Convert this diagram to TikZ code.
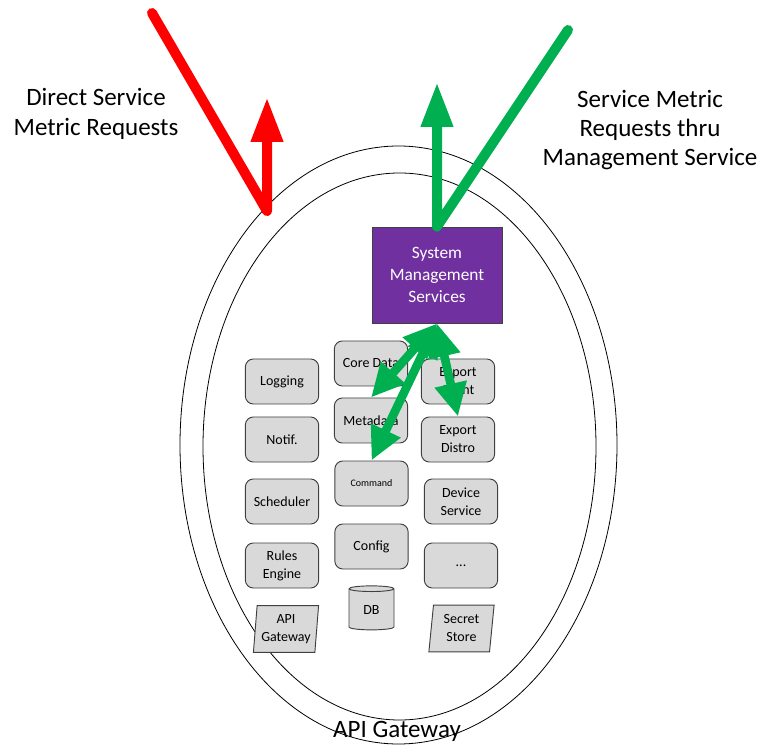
\documentclass[tikz,border=0pt]{standalone}
\usepackage{fontspec}
\setmainfont{Carlito}
\usetikzlibrary{arrows.meta,shapes.geometric}
\definecolor{smspurple}{HTML}{7030A0}
\definecolor{mgmtgreen}{HTML}{00B050}
\definecolor{directred}{HTML}{FF0000}
\definecolor{boxgray}{HTML}{D9D9D9}
\definecolor{edgegray}{HTML}{404040}

\begin{document}
\begin{tikzpicture}[x=0.75pt,y=-0.75pt,
  svc/.style={draw=edgegray,fill=boxgray,line width=0.7pt,rounded corners=6pt,minimum width=55pt,minimum height=33.75pt,inner sep=1pt,align=center,font=\fontsize{10.5}{13.5}\selectfont},
  store/.style={draw=edgegray,fill=boxgray,line width=0.7pt,trapezium,trapezium stretches=true,trapezium left angle=84,trapezium right angle=96,minimum width=49pt,minimum height=35pt,inner sep=1pt,align=center,font=\fontsize{10.5}{13.5}\selectfont},
  bigtext/.style={align=center,font=\fontsize{18.75}{22}\selectfont},
  fat/.style={line width=7.5pt,line cap=round,line join=round,-{Triangle[length=33.75pt,width=22.5pt]}},
  link/.style={draw=mgmtgreen,line width=6.5pt,{Triangle[length=25pt,width=23pt]}-{Triangle[length=25pt,width=23pt]}}]
\useasboundingbox (0,0) rectangle (761,745);
% gateway rings
\draw[line width=0.6pt] (398.5,445) ellipse [x radius=218.5, y radius=299];
\draw[line width=0.6pt] (399.5,446.5) ellipse [x radius=196.5, y radius=273.5];
\node[bigtext] at (397,731) (gwlbl) {API Gateway};
% labels
\node[bigtext] at (96,114) (directlbl) {Direct Service\\Metric Requests};
\node[bigtext] at (650,130) (mgmtlbl) {Service Metric\\Requests thru\\Management Service};
% system management
\node[draw=edgegray,fill=smspurple,line width=0.7pt,minimum width=97.5pt,minimum height=72pt,align=center,text=white,font=\fontsize{13}{16.5}\selectfont] at (437,275) (sms) {System\\Management\\Services};
% services
\node[svc] at (282,381.5) (logging) {Logging};
\node[svc] at (282,439.5) (notif) {Notif.};
\node[svc] at (282,501.5) (scheduler) {Scheduler};
\node[svc] at (282,565.5) (rules) {Rules\\Engine};
\node[svc] at (371,363.5) (coredata) {Core Data};
\node[svc] at (371,420.5) (metadata) {Metadata};
\node[svc,font=\fontsize{7.5}{9}\selectfont] at (371.5,483.5) (command) {Command};
\node[svc] at (371.5,546.5) (config) {Config};
\node[svc] at (458,381.5) (exclient) {Export\\Client};
\node[svc] at (458,439.5) (exdistro) {Export\\Distro};
\node[svc] at (461,501.5) (devsvc) {Device\\Service};
\node[svc] at (461,565.5) (more) {...};
\node[draw=edgegray,fill=boxgray,line width=0.7pt,cylinder,shape border rotate=90,aspect=0.3,minimum width=33.75pt,minimum height=33pt,inner sep=1pt,font=\fontsize{10.5}{13.5}\selectfont] at (371.5,610) (db) {DB};
\node[store] at (286,629) (apigw) {API\\Gateway};
\node[store] at (461.5,628.5) (secret) {Secret\\Store};
% metric requests
\coordinate (redstart) at (152,13);
\coordinate (redbend) at (267,211);
\coordinate (redtip) at (267,97);
\draw[fat,directred] (redstart) -- (redbend) -- (redtip);
\coordinate (greenstart) at (568,30);
\coordinate (greentip) at (437,82);
\draw[fat,mgmtgreen] (greenstart) -- (sms.north) -- (greentip);
\draw[link] (sms.south) -- (metadata.north);
\draw[link] (sms.south) -- (command.north);
\draw[link] (sms.south) -- (exdistro.north);
\end{tikzpicture}
\end{document}
